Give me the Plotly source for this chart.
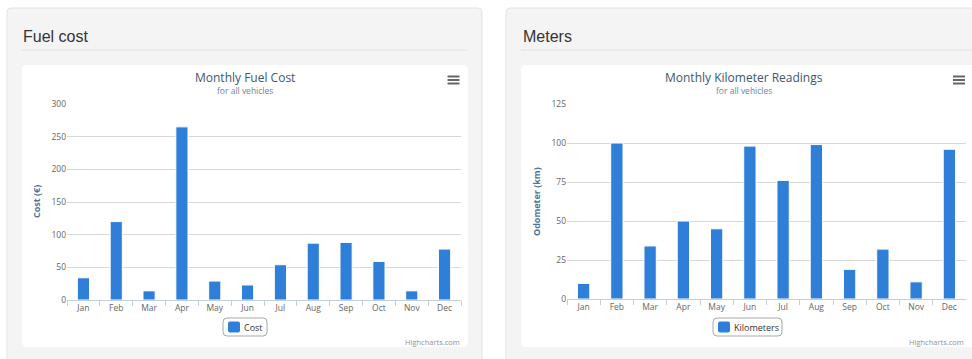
import plotly.graph_objects as go

W, H = 972, 359

months = ["Jan", "Feb", "Mar", "Apr", "May", "Jun", "Jul", "Aug", "Sep", "Oct", "Nov", "Dec"]
fuel_cost = [34, 120, 14, 265, 29, 23, 54, 87, 88, 59, 14, 78]
kilometers = [10, 100, 34, 50, 45, 98, 76, 99, 19, 32, 11, 96]

cost_ticks = [0, 50, 100, 150, 200, 250, 300]
km_ticks = [0, 25, 50, 75, 100, 125]

BAR = "#2f7ed8"
FONT = "Open Sans"


def px(x):
    return x / W


def py(y):
    return 1 - y / H


def rrect(x0, y0, x1, y1, r, fill, line=None, lw=0, layer="below"):
    rx, ry = r / W, r / H
    X0, X1, Y0, Y1 = px(x0), px(x1), py(y0), py(y1)
    path = (f"M {X0+rx},{Y0} L {X1-rx},{Y0} Q {X1},{Y0} {X1},{Y0-ry} "
            f"L {X1},{Y1+ry} Q {X1},{Y1} {X1-rx},{Y1} L {X0+rx},{Y1} "
            f"Q {X0},{Y1} {X0},{Y1+ry} L {X0},{Y0-ry} Q {X0},{Y0} {X0+rx},{Y0} Z")
    return dict(type="path", path=path, xref="paper", yref="paper", fillcolor=fill,
                line=dict(color=line or fill, width=lw), layer=layer)


fig = go.Figure()

fig.add_trace(go.Bar(x=months, y=fuel_cost, name="Cost", marker=dict(color=BAR, line=dict(color="#ffffff", width=1)),
                     xaxis="x", yaxis="y", showlegend=False, hoverinfo="x+y"))
fig.add_trace(go.Bar(x=months, y=kilometers, name="Kilometers", marker=dict(color=BAR, line=dict(color="#ffffff", width=1)),
                     xaxis="x2", yaxis="y2", showlegend=False, hoverinfo="x+y"))

shapes = []
# outer panels
shapes.append(rrect(7, 8, 482, 375, 4, "#f4f4f4", "#e3e3e3", 1))
shapes.append(rrect(506, 8, 990, 375, 4, "#f4f4f4", "#e3e3e3", 1))
# separators
shapes.append(dict(type="line", xref="paper", yref="paper", x0=px(21), x1=px(468), y0=py(50), y1=py(50),
                   line=dict(color="#e4e4e4", width=1), layer="below"))
shapes.append(dict(type="line", xref="paper", yref="paper", x0=px(521), x1=px(972), y0=py(50), y1=py(50),
                   line=dict(color="#e4e4e4", width=1), layer="below"))
# chart cards
shapes.append(rrect(22, 65, 468, 347, 5, "#ffffff"))
shapes.append(rrect(521, 65, 985, 347, 5, "#ffffff"))
# hamburger menu icons
for (hx0, hx1) in [(447.5, 459.5), (953, 965)]:
    for hy in [76.5, 80, 83.5]:
        shapes.append(dict(type="line", xref="paper", yref="paper", x0=px(hx0), x1=px(hx1), y0=py(hy), y1=py(hy),
                           line=dict(color="#666666", width=2)))

annotations = []


def text(x, y, s, size, color, xanchor="center", yanchor="middle", angle=0, family=FONT, bold=False):
    if bold:
        s = f"<b>{s}</b>"
    annotations.append(dict(x=px(x), y=py(y), xref="paper", yref="paper", text=s, showarrow=False,
                            xanchor=xanchor, yanchor=yanchor, textangle=angle,
                            font=dict(size=size, color=color, family=family)))


# legends (drawn boxes)
for (lx0, lx1, label) in [(223, 267, "Cost"), (713, 782, "Kilometers")]:
    shapes.append(rrect(lx0, 318, lx1, 336, 4, "#ffffff", "#a8a8a8", 1, layer="above"))
    shapes.append(rrect(lx0 + 5, 321.5, lx0 + 17, 332.5, 2, BAR, layer="above"))
    text(lx0 + 19, 327.5, label, 9, "#333333", xanchor="left")

text(21, 36, "Fuel cost", 16, "#333333", xanchor="left", family="Liberation Sans")
text(521, 36, "Meters", 16, "#333333", xanchor="left", family="Liberation Sans")
text(245, 77.5, "Monthly Fuel Cost", 12, "#3E576F")
text(245, 90.5, "for all vehicles", 8.5, "#6D869F")
text(744, 77.5, "Monthly Kilometer Readings", 12, "#3E576F")
text(744, 90.5, "for all vehicles", 8.5, "#6D869F")
text(36, 202, "Cost (€)", 9, "#4d759e", angle=-90, bold=True)
text(536, 202, "Odometer (km)", 9, "#4d759e", angle=-90, bold=True)
text(462, 341.5, "Highcharts.com", 7.5, "#909090", xanchor="right")
text(966, 341.5, "Highcharts.com", 7.5, "#909090", xanchor="right")

xcommon = dict(type="category", showline=True, linecolor="#C0D0E0", linewidth=1, ticks="outside",
               tickson="boundaries", ticklen=5, tickcolor="#C0D0E0", showgrid=False,
               tickfont=dict(size=8.5, color="#666666", family=FONT), fixedrange=True)
ycommon = dict(showline=False, showgrid=True, gridcolor="#d8d8d8", gridwidth=1, zeroline=False,
               tickfont=dict(size=8.5, color="#666666", family=FONT), ticks="", fixedrange=True)

fig.update_layout(
    width=W, height=H, margin=dict(l=0, r=0, t=0, b=0, pad=0, autoexpand=False),
    paper_bgcolor="#ffffff", plot_bgcolor="rgba(0,0,0,0)",
    bargap=0.63, showlegend=False,
    xaxis=dict(domain=[px(67), px(461)], anchor="y", **xcommon),
    yaxis=dict(domain=[py(300), py(104)], anchor="x", range=[0, 300], tickvals=cost_ticks, **ycommon),
    xaxis2=dict(domain=[px(567), px(966)], anchor="y2", **xcommon),
    yaxis2=dict(domain=[py(299), py(104)], anchor="x2", range=[0, 125], tickvals=km_ticks, **ycommon),
    shapes=shapes, annotations=annotations,
)

fig.write_html("out.html")
